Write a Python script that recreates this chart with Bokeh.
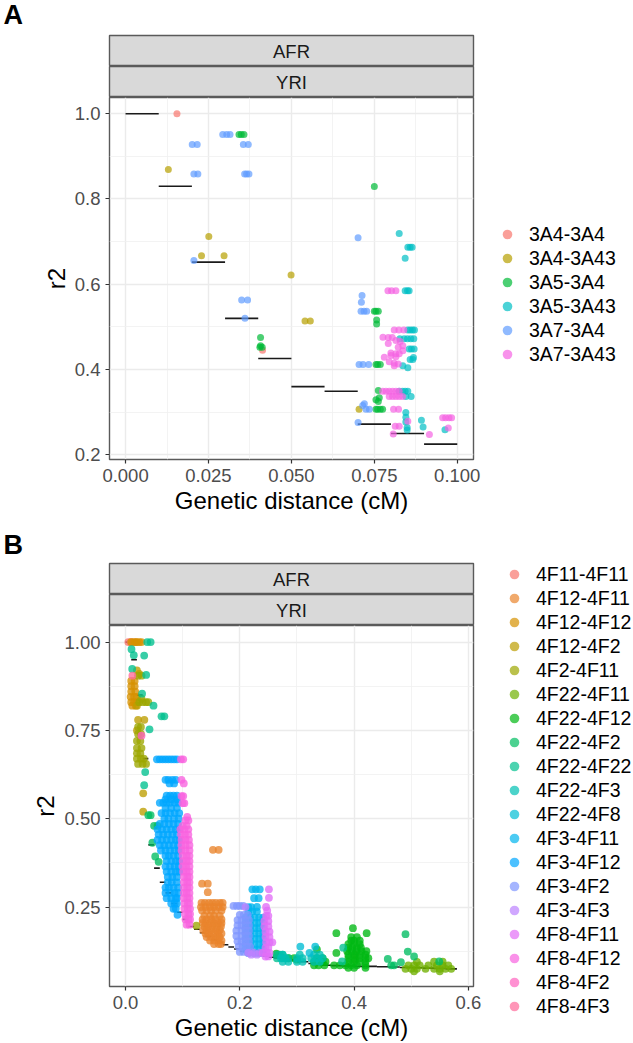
from bokeh.plotting import figure
from bokeh.layouts import column, row
from bokeh.models import Range1d, FixedTicker, NumeralTickFormatter, Legend, LegendItem
from bokeh.core.properties import value
from bokeh.embed import file_html
from bokeh.resources import INLINE

# ---------- panel A: each row is (r2, [distances]) ----------
A_NAMES = ["3A4-3A4", "3A4-3A43", "3A5-3A4", "3A5-3A43", "3A7-3A4", "3A7-3A43"]
A_COLORS = ["#F8766D", "#B79F00", "#00BA38", "#00BFC4", "#619CFF", "#F564E3"]
A_BIN_START = [0.00, 0.01, 0.02, 0.03, 0.04, 0.05, 0.06, 0.07, 0.08, 0.09]
A_BIN_END = [0.01, 0.02, 0.03, 0.04, 0.05, 0.06, 0.07, 0.08, 0.09, 0.10]
A_BIN_R2 = [1.0, 0.83, 0.652, 0.52, 0.426, 0.36, 0.349, 0.272, 0.25, 0.225]
A_3A4_3A4 = [(1.0, [0.0155]), (0.445, [0.0413])]
A_3A4_3A43 = [(0.869, [0.0129]), (0.712, [0.0251]), (0.667, [0.0229, 0.0297]), (0.622, [0.0499]),
              (0.514, [0.0541, 0.0557]), (0.307, [0.0704])]
A_3A5_3A4 = [(0.9515, [0.0342, 0.0349, 0.0357]), (0.475, [0.0407]), (0.456, [0.0407]), (0.452, [0.0405, 0.0412]),
             (0.829, [0.075]), (0.5366, [0.075, 0.0755, 0.0762]), (0.516, [0.0757]), (0.507, [0.0757]),
             (0.4116, [0.0755, 0.076, 0.0768]), (0.351, [0.0762]), (0.329, [0.0755]), (0.334, [0.0765]),
             (0.325, [0.0762]), (0.307, [0.0755, 0.076, 0.0768, 0.0775])]
A_3A5_3A43 = [(0.719, [0.0825]), (0.6866, [0.0851, 0.0858, 0.0864]), (0.661, [0.0843]),
              (0.585, [0.0843, 0.085, 0.0855]), (0.493, [0.0851, 0.0858, 0.0865, 0.0871]),
              (0.472, [0.0827, 0.084, 0.085, 0.086, 0.0869]), (0.4484, [0.0855, 0.0862, 0.087]),
              (0.428, [0.0868]), (0.4235, [0.0858, 0.0866]), (0.409, [0.0836]), (0.404, [0.0851]),
              (0.349, [0.0825, 0.0835, 0.0843, 0.0851]), (0.3367, [0.0845, 0.0861]),
              (0.299, [0.0845]), (0.288, [0.0845]), (0.277, [0.0845]), (0.264, [0.0849]), (0.258, [0.0849]),
              (0.281, [0.0892]), (0.265, [0.0897]), (0.259, [0.0963])]
A_3A7_3A4 = [(0.9515, [0.0293, 0.0305, 0.0315]), (0.928, [0.0201, 0.0216, 0.0355, 0.037]),
             (0.8586, [0.0206, 0.0218, 0.0359, 0.0365, 0.0372]), (0.6555, [0.0206]),
             (0.563, [0.035, 0.0368]), (0.52, [0.036]), (0.709, [0.0701]), (0.5734, [0.0713]),
             (0.5576, [0.0711]), (0.5366, [0.071, 0.0719, 0.0727]), (0.4116, [0.0704, 0.0716, 0.0733]),
             (0.3195, [0.072]), (0.3155, [0.0715]), (0.307, [0.0725, 0.0735]), (0.2757, [0.0701])]
A_3A7_3A43 = [(0.585, [0.0791, 0.0802, 0.0815]), (0.493, [0.081, 0.0824, 0.0839]),
              (0.476, [0.0776]), (0.475, [0.0792, 0.0804]), (0.468, [0.0815]), (0.466, [0.0828]),
              (0.461, [0.0792]), (0.456, [0.0836]), (0.452, [0.0822]), (0.444, [0.0836]),
              (0.439, [0.08]), (0.437, [0.0815, 0.0825]), (0.433, [0.08]), (0.43, [0.0815]),
              (0.429, [0.078]), (0.418, [0.0795]), (0.415, [0.081]), (0.413, [0.0822]), (0.409, [0.081]),
              (0.349, [0.0775, 0.0785, 0.0795, 0.0805, 0.0815, 0.0825]),
              (0.3367, [0.0795, 0.0805, 0.0815, 0.0825, 0.0835]), (0.307, [0.0808, 0.0823]),
              (0.2785, [0.0851]), (0.267, [0.0813, 0.0825]), (0.249, [0.0807]), (0.2476, [0.0916]),
              (0.287, [0.0956, 0.0965, 0.0975, 0.0983]), (0.263, [0.0973])]
A_DATA = [A_3A4_3A4, A_3A4_3A43, A_3A5_3A4, A_3A5_3A43, A_3A7_3A4, A_3A7_3A43]

# ---------- panel B ----------
B_NAMES = ["4F11-4F11", "4F12-4F11", "4F12-4F12", "4F12-4F2", "4F2-4F11", "4F22-4F11", "4F22-4F12",
           "4F22-4F2", "4F22-4F22", "4F22-4F3", "4F22-4F8", "4F3-4F11", "4F3-4F12", "4F3-4F2", "4F3-4F3",
           "4F8-4F11", "4F8-4F12", "4F8-4F2", "4F8-4F3"]
B_COLORS = ["#F8766D", "#E9842C", "#D69100", "#BC9D00", "#9CA700", "#6FB000", "#00B813", "#00BD61", "#00C08E",
            "#00C0B4", "#00BDD4", "#00B5EE", "#00A7FF", "#7F96FF", "#BC81FF", "#E26EF7", "#F863DF", "#FF62BF",
            "#FF6A9A"]
B_BIN_START = [0.00, 0.01, 0.02, 0.03, 0.04, 0.05, 0.06, 0.07, 0.08, 0.09, 0.10, 0.11, 0.12, 0.13, 0.14, 0.15,
               0.16, 0.17, 0.18, 0.19, 0.20, 0.21, 0.22, 0.23, 0.24, 0.25, 0.26, 0.27, 0.28, 0.29, 0.30, 0.32,
               0.34, 0.36, 0.38, 0.40, 0.42, 0.44, 0.46, 0.48, 0.50, 0.52, 0.54, 0.56]
B_BIN_END = [0.01, 0.02, 0.03, 0.04, 0.05, 0.06, 0.07, 0.08, 0.09, 0.10, 0.11, 0.12, 0.13, 0.14, 0.15, 0.16,
             0.17, 0.18, 0.19, 0.20, 0.21, 0.22, 0.23, 0.24, 0.25, 0.26, 0.27, 0.28, 0.29, 0.30, 0.32, 0.34,
             0.36, 0.38, 0.40, 0.42, 0.44, 0.46, 0.48, 0.50, 0.52, 0.54, 0.56, 0.58]
B_BIN_R2 = [1.0, 0.95, 0.85, 0.67, 0.426, 0.36, 0.32, 0.29, 0.26, 0.235, 0.215, 0.195, 0.187, 0.177, 0.167, 0.157,
            0.15, 0.143, 0.137, 0.131, 0.125, 0.12, 0.117, 0.114, 0.111, 0.108, 0.106, 0.104, 0.102, 0.1, 0.095,
            0.09, 0.085, 0.084, 0.083, 0.082, 0.082, 0.081, 0.08, 0.079, 0.078, 0.077, 0.076, 0.075]
B_4F11_4F11 = [(1.0, [0.005, 0.009])]
B_4F12_4F11 = [(1.0, [0.012, 0.018]), (0.412, [0.153, 0.163]), (0.316, [0.134, 0.144]), (0.292, [0.144]),
               (0.262, [0.133, 0.139, 0.146, 0.152, 0.158, 0.165, 0.17]), (0.25, [0.132, 0.14, 0.148, 0.155, 0.163, 0.17]),
               (0.24, [0.134, 0.142, 0.15, 0.158, 0.168]), (0.225, [0.138, 0.148, 0.155, 0.165]),
               (0.215, [0.135, 0.142, 0.15, 0.158, 0.168]), (0.205, [0.135, 0.14, 0.148, 0.155, 0.162, 0.168]),
               (0.195, [0.138, 0.145, 0.152, 0.16, 0.167]), (0.185, [0.136, 0.142, 0.15, 0.158, 0.165]),
               (0.175, [0.14, 0.146, 0.154, 0.162, 0.168]), (0.165, [0.142, 0.15, 0.158, 0.165]),
               (0.155, [0.148, 0.155, 0.162, 0.168]), (0.145, [0.155, 0.163, 0.167])]
B_4F12_4F12 = [(1.0, [0.01, 0.016, 0.02, 0.024, 0.028]), (0.89, [0.01, 0.016]), (0.875, [0.01, 0.016]),
               (0.86, [0.01, 0.017]), (0.845, [0.009, 0.015, 0.02]), (0.83, [0.01, 0.015, 0.02]), (0.82, [0.012, 0.018])]
B_4F12_4F2 = [(0.92, [0.02]), (0.91, [0.024]), (0.82, [0.02]), (0.78, [0.022, 0.033]), (0.75, [0.02]),
              (0.572, [0.031]), (0.52, [0.031])]
B_4F2_4F11 = [(0.905, [0.022, 0.028]), (0.83, [0.024, 0.03, 0.036, 0.04]), (0.84, [0.028]), (0.76, [0.022, 0.027]),
              (0.74, [0.022, 0.027]), (0.72, [0.02, 0.026]), (0.70, [0.02, 0.028]), (0.685, [0.02, 0.026]),
              (0.67, [0.02, 0.027, 0.032]), (0.655, [0.022, 0.03, 0.036]), (0.197, [0.124])]
B_4F22_4F11 = [(0.095, [0.51, 0.54, 0.555]), (0.085, [0.495, 0.505, 0.515, 0.53, 0.545, 0.555, 0.565]),
               (0.075, [0.49, 0.5, 0.51, 0.525, 0.54, 0.55, 0.56, 0.57]), (0.068, [0.505, 0.55]),
               (0.115, [0.402]), (0.101, [0.402])]
B_4F22_4F12 = [(0.19, [0.398]), (0.176, [0.369, 0.422]), (0.165, [0.395, 0.405]), (0.155, [0.395, 0.4, 0.41]),
               (0.145, [0.39, 0.4, 0.41]), (0.135, [0.39, 0.397, 0.405, 0.412]),
               (0.125, [0.388, 0.396, 0.404, 0.413, 0.4216]), (0.12, [0.369]), (0.115, [0.39, 0.4, 0.41, 0.42]),
               (0.105, [0.39, 0.4, 0.41, 0.42, 0.425]), (0.095, [0.39, 0.4, 0.41, 0.42]),
               (0.085, [0.385, 0.395, 0.405, 0.42, 0.365, 0.375]), (0.078, [0.39, 0.4, 0.42]),
               (0.13, [0.335]), (0.105, [0.335, 0.345, 0.285, 0.295]), (0.095, [0.33, 0.338, 0.345, 0.35]),
               (0.085, [0.33, 0.338, 0.348]), (0.118, [0.264]), (0.101, [0.3])]
B_4F22_4F2 = [(0.51, [0.04, 0.044]), (0.48, [0.05, 0.056]), (0.432, [0.047]), (0.393, [0.052]), (0.378, [0.058]),
              (0.173, [0.49]), (0.124, [0.494]), (0.11, [0.505]), (0.103, [0.459]), (0.096, [0.549]),
              (0.094, [0.482]), (0.085, [0.465, 0.47])]
B_4F22_4F22 = [(1.0, [0.038, 0.044]), (0.98, [0.0105]), (0.963, [0.0145]), (0.962, [0.0327]), (0.924, [0.0117]),
               (0.907, [0.0362]), (0.854, [0.029]), (0.82, [0.049]), (0.79, [0.063, 0.068]), (0.753, [0.042]),
               (0.632, [0.0345]), (0.595, [0.0327]), (0.135, [0.381]), (0.096, [0.379]),
               (0.115, [0.265, 0.27, 0.275]), (0.105, [0.265, 0.275, 0.285])]
B_4F22_4F3 = [(0.115, [0.275, 0.305, 0.33, 0.34]), (0.105, [0.272, 0.28, 0.3, 0.31, 0.325, 0.335, 0.345]),
              (0.095, [0.275, 0.285, 0.3, 0.31, 0.33, 0.34])]
B_4F22_4F8 = [(0.138, [0.306, 0.332]), (0.12, [0.322])]
B_4F3_4F11 = [(0.3, [0.222, 0.228, 0.235]), (0.275, [0.225, 0.233]), (0.25, [0.215, 0.22, 0.23]),
              (0.237, [0.215, 0.222, 0.23]), (0.22, [0.21, 0.218, 0.226, 0.234, 0.241]),
              (0.205, [0.21, 0.218, 0.226, 0.234, 0.241]), (0.19, [0.21, 0.218, 0.226, 0.234, 0.241]),
              (0.175, [0.21, 0.218, 0.226, 0.234, 0.241]), (0.16, [0.21, 0.218, 0.226, 0.234, 0.241]),
              (0.145, [0.21, 0.218, 0.226, 0.234, 0.241]), (0.13, [0.21, 0.218, 0.226, 0.234, 0.241]),
              (0.12, [0.215, 0.225, 0.233, 0.24])]
B_4F3_4F12 = [(0.668, [0.055, 0.06, 0.065, 0.07, 0.075, 0.08, 0.085, 0.09]), (0.61, [0.07, 0.075, 0.082, 0.088]),
              (0.6, [0.077, 0.085]), (0.565, [0.072, 0.078, 0.084, 0.09]), (0.555, [0.07, 0.08, 0.09]),
              (0.545, [0.06, 0.066, 0.072, 0.078, 0.086, 0.092]), (0.53, [0.07, 0.08, 0.09]),
              (0.516, [0.063, 0.07, 0.078, 0.086, 0.094]), (0.5, [0.068, 0.075, 0.085, 0.093]),
              (0.485, [0.06, 0.068, 0.076, 0.084, 0.092]), (0.47, [0.056, 0.064, 0.072, 0.08, 0.088, 0.094]),
              (0.455, [0.058, 0.066, 0.074, 0.082, 0.09]), (0.44, [0.056, 0.064, 0.072, 0.08, 0.088, 0.094]),
              (0.425, [0.06, 0.068, 0.076, 0.084, 0.092]), (0.41, [0.062, 0.07, 0.078, 0.086, 0.093]),
              (0.395, [0.07, 0.076, 0.084, 0.092]), (0.38, [0.072, 0.08, 0.088, 0.094]),
              (0.365, [0.07, 0.078, 0.086, 0.093]), (0.35, [0.072, 0.08, 0.088, 0.094]),
              (0.335, [0.074, 0.082, 0.09]), (0.32, [0.074, 0.081, 0.09]), (0.305, [0.07, 0.076, 0.084, 0.092]),
              (0.29, [0.07, 0.078, 0.086, 0.092]), (0.275, [0.072, 0.08, 0.088, 0.09]), (0.26, [0.08, 0.086, 0.09]),
              (0.245, [0.084, 0.088]), (0.228, [0.091])]
B_4F3_4F2 = [(0.253, [0.189, 0.195, 0.2, 0.206]), (0.228, [0.2, 0.207, 0.214]), (0.213, [0.196, 0.203, 0.21, 0.216]),
             (0.198, [0.196, 0.203, 0.21, 0.216]), (0.183, [0.194, 0.203, 0.21, 0.216]),
             (0.168, [0.194, 0.203, 0.21, 0.216]), (0.153, [0.196, 0.203, 0.21, 0.216]),
             (0.138, [0.198, 0.205, 0.212, 0.218]), (0.123, [0.2, 0.207, 0.214, 0.22])]
B_4F3_4F3 = [(0.25, [0.21]), (0.12, [0.215, 0.225, 0.235]), (0.115, [0.22, 0.23])]
B_4F8_4F11 = [(0.3, [0.251]), (0.276, [0.251]), (0.25, [0.246]), (0.24, [0.248]), (0.225, [0.246, 0.25]),
              (0.21, [0.243, 0.25]), (0.195, [0.243, 0.25]), (0.18, [0.245, 0.252]), (0.165, [0.245, 0.252]),
              (0.15, [0.246, 0.252, 0.257]), (0.135, [0.245, 0.25]), (0.12, [0.24, 0.247, 0.252]), (0.11, [0.245, 0.25])]
B_4F8_4F12 = [(0.668, [0.097, 0.101]), (0.61, [0.098]), (0.6, [0.102]), (0.564, [0.098, 0.101]), (0.544, [0.1, 0.103]),
              (0.505, [0.108]), (0.495, [0.105, 0.11]), (0.48, [0.1, 0.107]), (0.47, [0.096, 0.103, 0.11]),
              (0.455, [0.097, 0.104, 0.11]), (0.44, [0.098, 0.105, 0.111]), (0.425, [0.098, 0.105, 0.112]),
              (0.41, [0.098, 0.105, 0.112]), (0.395, [0.1, 0.107, 0.112]), (0.38, [0.1, 0.107, 0.112]),
              (0.365, [0.1, 0.106, 0.112]), (0.35, [0.101, 0.107, 0.112]), (0.335, [0.102, 0.108, 0.112]),
              (0.32, [0.102, 0.108, 0.112]), (0.305, [0.102, 0.108, 0.112]), (0.29, [0.102, 0.107, 0.112]),
              (0.275, [0.102, 0.108, 0.112]), (0.26, [0.103, 0.109, 0.112]), (0.245, [0.103, 0.109, 0.113]),
              (0.23, [0.104, 0.11, 0.113]), (0.215, [0.105, 0.11, 0.113]), (0.2, [0.107, 0.112])]
B_4F8_4F2 = [(0.735, [0.028])]
B_4F8_4F3 = [(0.905, [0.012])]
B_DATA = [B_4F11_4F11, B_4F12_4F11, B_4F12_4F12, B_4F12_4F2, B_4F2_4F11, B_4F22_4F11, B_4F22_4F12, B_4F22_4F2,
          B_4F22_4F22, B_4F22_4F3, B_4F22_4F8, B_4F3_4F11, B_4F3_4F12, B_4F3_4F2, B_4F3_4F3, B_4F8_4F11, B_4F8_4F12,
          B_4F8_4F2, B_4F8_4F3]

A_XTICKS = [0.0, 0.025, 0.05, 0.075, 0.1]
A_XMINOR = [0.0125, 0.0375, 0.0625, 0.0875]
A_YTICKS = [0.2, 0.4, 0.6, 0.8, 1.0]
A_YMINOR = [0.3, 0.5, 0.7, 0.9]
B_XTICKS = [0.0, 0.2, 0.4, 0.6]
B_XMINOR = [0.1, 0.3, 0.5]
B_YTICKS = [0.25, 0.5, 0.75, 1.0]
B_YMINOR = [0.125, 0.375, 0.625, 0.875]
STRIPS = ["AFR", "YRI"]
FONT = "Liberation Sans"
PAGE_W = 633
LEFT_W = 490
LEG_W = 143


def blank(w, h, **kw):
    p = figure(width=w, height=h, output_backend="svg", toolbar_location=None,
               x_range=Range1d(0, 1), y_range=Range1d(0, 1),
               min_border_left=kw.get("l", 0), min_border_right=kw.get("r", 0),
               min_border_top=kw.get("t", 0), min_border_bottom=0)
    p.xaxis.visible = False
    p.yaxis.visible = False
    p.grid.visible = False
    p.outline_line_color = None
    p.border_fill_color = "white"
    return p


def header(letter, h):
    p = blank(PAGE_W, h)
    p.text([3 / PAGE_W], [1 - 14 / h], text=[letter], text_align="left", text_baseline="middle",
           text_font=value(FONT), text_font_style="bold", text_font_size="27px", text_color="#000000")
    return p


def strip(lab, first):
    p = blank(LEFT_W, 32 if first else 31, l=109, r=17, t=1 if first else 0)
    p.background_fill_color = "#d9d9d9"
    p.outline_line_color = "#5a5a5a"
    p.outline_line_width = 1.4
    p.text([0.5], [0.5], text=[lab], text_align="center", text_baseline="middle", text_font=value(FONT),
           text_font_size="18.5px", text_color="#1a1a1a")
    return p


def flat(rows):
    xs, ys = [], []
    for y, vals in rows:
        for x in vals:
            xs.append(x)
            ys.append(y)
    return xs, ys


def main(h, bottom, xr, yr, xt, xm, yt, ym, xfmt, yfmt, data, colors, b0, b1, br, size, alpha):
    p = figure(width=LEFT_W, height=h, output_backend="svg", toolbar_location=None,
               x_range=Range1d(*xr), y_range=Range1d(*yr),
               min_border_left=109, min_border_right=17, min_border_top=0, min_border_bottom=bottom)
    p.background_fill_color = "white"
    p.border_fill_color = "white"
    p.outline_line_color = "#5a5a5a"
    p.outline_line_width = 1.4
    for ax, t, m, fmt in ((p.xaxis[0], xt, xm, xfmt), (p.yaxis[0], yt, ym, yfmt)):
        ax.ticker = FixedTicker(ticks=t, minor_ticks=m)
        ax.formatter = NumeralTickFormatter(format=fmt)
        ax.axis_line_color = None
        ax.major_tick_line_color = "#333333"
        ax.major_tick_line_width = 1.2
        ax.major_tick_in = 0
        ax.major_tick_out = 4
        ax.minor_tick_line_color = None
        ax.major_label_text_color = "#4d4d4d"
        ax.major_label_text_font = FONT
        ax.major_label_text_font_size = "18.5px"
        ax.major_label_standoff = 5
        ax.axis_label_text_font = FONT
        ax.axis_label_text_font_style = "normal"
        ax.axis_label_text_font_size = "24px"
        ax.axis_label_text_color = "#000000"
    p.xaxis[0].axis_label = "Genetic distance (cM)"
    p.xaxis[0].axis_label_standoff = 2
    p.yaxis[0].axis_label = "r2"
    p.yaxis[0].axis_label_standoff = 2
    for g in (p.xgrid[0], p.ygrid[0]):
        g.grid_line_color = "#ebebeb"
        g.grid_line_width = 1.4
        g.minor_grid_line_color = "#f0f0f0"
        g.minor_grid_line_width = 0.8
    p.segment(x0=b0, x1=b1, y0=br, y1=br, line_color="#1a1a1a", line_width=1.6)
    for rows, col in zip(data, colors):
        xs, ys = flat(rows)
        p.scatter(xs, ys, size=size, fill_color=col, fill_alpha=alpha, line_color=None)
    return p


def legend_fig(h, names, colors, data, left_x, bottom_y):
    p = blank(LEG_W, h)
    p.x_range = Range1d(10, 11)
    p.y_range = Range1d(10, 11)
    items = []
    for name, col, rows in zip(names, colors, data):
        xs, ys = flat(rows)
        r = p.scatter(xs, ys, size=6.3, fill_color=col, fill_alpha=0.7, line_color=None)
        items.append(LegendItem(label=name, renderers=[r]))
    leg = Legend(items=items, location=(left_x, bottom_y), padding=0, margin=0, spacing=0,
                 glyph_width=24, glyph_height=24, label_height=24, label_standoff=10,
                 border_line_color=None, background_fill_alpha=0,
                 label_text_font=FONT, label_text_font_size="19.5px", label_text_color="#000000")
    p.add_layout(leg, "center")
    return p


left_a = column(strip(STRIPS[0], True), strip(STRIPS[1], False),
                main(433, 71, (-0.00484, 0.1049), (0.189, 1.038), A_XTICKS, A_XMINOR, A_YTICKS, A_YMINOR,
                     "0.000", "0.0", A_DATA, A_COLORS, A_BIN_START, A_BIN_END, A_BIN_R2, 7.0, 0.7),
                spacing=0)
left_b = column(strip(STRIPS[0], True), strip(STRIPS[1], False),
                main(418, 56, (-0.028, 0.609), (0.025, 1.047), B_XTICKS, B_XMINOR, B_YTICKS, B_YMINOR,
                     "0.0", "0.00", B_DATA, B_COLORS, B_BIN_START, B_BIN_END, B_BIN_R2, 7.8, 0.78),
                spacing=0)
page = column(header("A", 34),
              row(left_a, legend_fig(496, A_NAMES, A_COLORS, A_DATA, 5, 164), spacing=0),
              header("B", 32),
              row(left_b, legend_fig(481, B_NAMES, B_COLORS, B_DATA, 12, 25), spacing=0),
              spacing=0)
open("out.html", "w").write(file_html(page, INLINE))
